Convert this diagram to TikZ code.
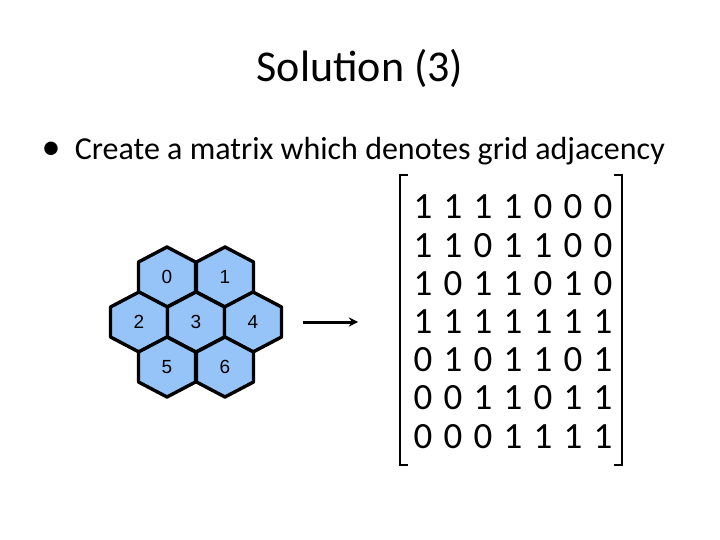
\documentclass[tikz,border=0pt]{standalone}
\usepackage{fontspec}
\setmainfont{Carlito}
\setsansfont{Liberation Sans}
\definecolor{hexblue}{RGB}{150,196,248}
\tikzset{
  hexcell/.style={fill=hexblue,draw=black,line width=3.4pt,line join=round},
  hexnum/.style={font=\sffamily\fontsize{19}{19}\selectfont},
  entry/.style={font=\fontsize{37}{37}\selectfont,inner sep=0pt},
  bracket/.style={line width=2.8pt}
}
\newcommand{\hexat}[3]{%
  \draw[hexcell] (#1,#2) ++(0,-30) -- ++(28.5,15) -- ++(0,30) -- ++(-28.5,15)
    -- ++(-28.5,-15) -- ++(0,-30) -- cycle;
  \node[hexnum] (h#3) at (#1,#2) {#3};}
\begin{document}
\begin{tikzpicture}[x=1pt,y=-1pt]
  \useasboundingbox (0,0) rectangle (720,540);
  \node[font=\fontsize{44}{44}\selectfont] (title) at (360,68) {Solution (3)};
  \node[font=\fontsize{32}{32}\selectfont,anchor=west] (item) at (38,151) {{\fontsize{38}{38}\selectfont\textbullet}\ \ Create a matrix which denotes grid adjacency};
  % hexagons
  \hexat{167}{277}{0}
  \hexat{225}{277}{1}
  \hexat{139}{322}{2}
  \hexat{196}{322}{3}
  \hexat{253}{322}{4}
  \hexat{167}{367}{5}
  \hexat{225}{367}{6}
  % arrow
  \coordinate (arrS) at (303,322);
  \coordinate (arrE) at (358,322);
  \draw[-stealth,line width=3pt] (arrS) -- (arrE);
  % matrix
  \foreach \row [count=\i from 0] in {{1,1,1,1,0,0,0},{1,1,0,1,1,0,0},{1,0,1,1,0,1,0},
      {1,1,1,1,1,1,1},{0,1,0,1,1,0,1},{0,0,1,1,0,1,1},{0,0,0,1,1,1,1}}
    {\foreach \v [count=\j from 0] in \row
      \node[entry] (m\i\j) at (423+30*\j,207+38.2*\i) {\v};};
  \draw[bracket] (408,175) -- (400,175) -- (400,465) -- (408,465);
  \draw[bracket] (614,175) -- (622,175) -- (622,465) -- (614,465);
\end{tikzpicture}
\end{document}
